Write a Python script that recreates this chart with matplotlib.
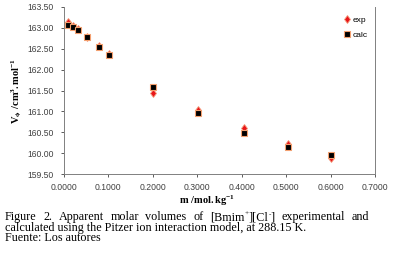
import matplotlib.pyplot as plt
import numpy as np

plt.rcParams['mathtext.fontset'] = 'custom'
plt.rcParams['mathtext.rm'] = 'Liberation Serif'
plt.rcParams['mathtext.it'] = 'Liberation Serif:italic'
plt.rcParams['mathtext.bf'] = 'Liberation Serif:bold'

# data
m_exp = [0.0083, 0.0195, 0.031, 0.051, 0.078, 0.1006, 0.201, 0.301, 0.406, 0.505, 0.601]
v_exp = [163.13, 163.05, 162.97, 162.79, 162.57, 162.37, 161.45, 161.03, 160.59, 160.23, 159.88]
m_calc = [0.0083, 0.0195, 0.031, 0.051, 0.078, 0.1006, 0.201, 0.301, 0.406, 0.505, 0.601]
v_calc = [163.08, 163.02, 162.95, 162.77, 162.53, 162.36, 161.58, 160.97, 160.49, 160.15, 159.95]

xticks = [0.0, 0.1, 0.2, 0.3, 0.4, 0.5, 0.6, 0.7]
yticks = [159.5, 160.0, 160.5, 161.0, 161.5, 162.0, 162.5, 163.0, 163.5]

fig = plt.figure(figsize=(3.95, 2.56), dpi=100)
ax = fig.add_axes([64/395, 1-174/256, (375-64)/395, (174-7)/256])

ax.plot(m_calc, v_calc, 's', ms=4.2, mfc='black', mec='#f4a070', mew=0.8, label='calc', zorder=3)
ax.plot(m_exp, v_exp, 'd', ms=4.5, mfc='#e8161a', mec='#f6a080', mew=0.6, label='exp', zorder=2)

ax.set_xlim(0, 0.7)
ax.set_ylim(159.5, 163.5)
ax.set_xticks(xticks)
ax.set_yticks(yticks)
ax.set_xticklabels(['%.4f' % t for t in xticks])
ax.set_yticklabels(['%.2f' % t for t in yticks])
ax.tick_params(labelsize=6.2, colors='#404040', length=2.5, width=0.6, pad=5)
ax.tick_params(axis='x', pad=4)
for lab in ax.get_xticklabels() + ax.get_yticklabels():
    lab.set_family('Liberation Sans')
ax.spines['top'].set_visible(False)
for s in ['left', 'bottom', 'right']:
    ax.spines[s].set_color('#808080')
    ax.spines[s].set_linewidth(0.7)

h, l = ax.get_legend_handles_labels()
ax.legend([h[1], h[0]], [l[1], l[0]], loc='upper right', bbox_to_anchor=(1.0, 0.99),
          frameon=False, handlelength=0.8, handletextpad=0.3,
          labelspacing=0.8, prop={'family': 'Liberation Sans', 'size': 6.0})

ax.set_ylabel(r'$\mathbf{V_{\phi}}$ $\mathbf{/cm^{3}.mol^{-1}}$', fontsize=7.5, labelpad=2)
ax.set_xlabel(r'$\mathit{\mathbf{m}}$ $\mathbf{/mol.kg^{-1}}$', fontsize=7.5)
ax.xaxis.set_label_coords((207-64)/(375-64), -0.12)

# caption, first line justified; superscripts done by hand so baselines stay put
fs = 8.7
fig.canvas.draw()
r = fig.canvas.get_renderer()
words = [[('Figure', 0)], [('2.', 0)], [('Apparent', 0)], [('molar', 0)], [('volumes', 0)],
         [('of', 0)], [('[Bmim', 0), ('+', 1), ('][Cl', 0), ('-', 1), (']', 0)],
         [('experimental', 0)], [('and', 0)]]
x0, x1 = 5, 369
yb = 1 - 220/256
pieces = []
for w in words:
    pw = []
    for s, up in w:
        t = fig.text(0, yb + (4/256 if up else 0), s, fontsize=fs*0.6 if up else fs,
                     family='Liberation Serif', va='baseline')
        pw.append((t, t.get_window_extent(r).width))
    pieces.append(pw)
widths = [sum(p[1] for p in pw) for pw in pieces]
gap = (x1 - x0 - sum(widths)) / (len(words) - 1)
x = x0
for pw, w in zip(pieces, widths):
    xx = x
    for t, tw in pw:
        t.set_x(xx / 395)
        xx += tw
    x += w + gap
fig.text(5/395, 1 - 230.5/256, 'calculated using the Pitzer ion interaction model, at 288.15 K.',
         fontsize=fs, family='Liberation Serif', va='baseline')
fig.text(5/395, 1 - 241/256, 'Fuente: Los autores', fontsize=fs, family='Liberation Serif',
         va='baseline')

fig.savefig('out.png', dpi=100)
